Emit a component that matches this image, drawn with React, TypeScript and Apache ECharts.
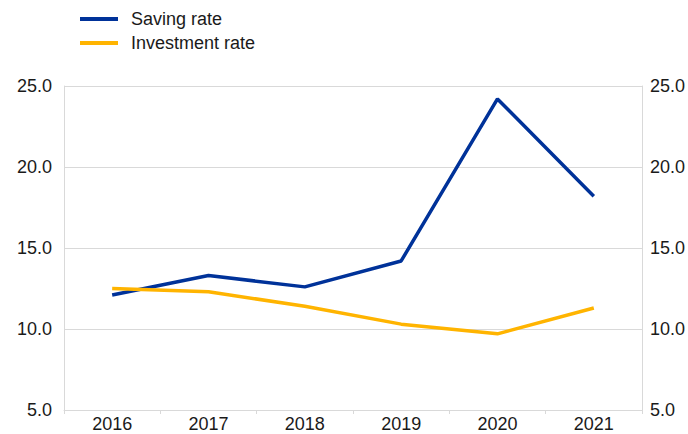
import React, { useEffect, useRef } from "react";
import * as echarts from "echarts";

const categories = ["2016", "2017", "2018", "2019", "2020", "2021"];
const savingRate = [12.1, 13.3, 12.6, 14.2, 24.2, 18.2];
const investmentRate = [12.5, 12.3, 11.4, 10.3, 9.7, 11.3];
const seriesNames = ["Saving rate", "Investment rate"];

export default function App() {
  const ref = useRef<HTMLDivElement>(null);
  useEffect(() => {
    document.body.style.margin = "0";
    const chart = echarts.init(ref.current!, null, { renderer: "svg" });
    const font = "Arial, 'Liberation Sans', sans-serif";
    const gridColor = "#d9d9d9";
    const fs = 18;
    const yAxisBase = {
      type: "value" as const,
      min: 5,
      max: 25,
      interval: 5,
      axisLine: { show: true, lineStyle: { color: gridColor, width: 1 } },
      axisTick: { show: false },
      axisLabel: {
        fontSize: fs,
        color: "#1a1a1a",
        fontFamily: font,
        formatter: (v: number) => v.toFixed(1),
      },
    };
    chart.setOption({
      animation: false,
      textStyle: { fontFamily: font },
      legend: {
        orient: "vertical",
        left: 75,
        top: 5,
        itemWidth: 38,
        itemHeight: 4,
        itemGap: 6,
        icon: "rect",
        data: seriesNames,
        textStyle: {
          fontSize: fs,
          color: "#1a1a1a",
          fontFamily: font,
          lineHeight: 18,
          padding: [0, 0, 0, 8],
        },
      },
      grid: { left: 64, right: 46, top: 86, bottom: 24, containLabel: false },
      xAxis: {
        type: "category",
        data: categories,
        boundaryGap: true,
        axisLine: { show: true, lineStyle: { color: gridColor, width: 1 } },
        axisTick: { show: true, length: 4, lineStyle: { color: gridColor } },
        axisLabel: { fontSize: fs, color: "#1a1a1a", fontFamily: font, margin: 5 },
      },
      yAxis: [
        {
          ...yAxisBase,
          position: "left",
          axisLabel: { ...yAxisBase.axisLabel, margin: 12 },
          splitLine: { show: true, lineStyle: { color: gridColor, width: 1 } },
        },
        {
          ...yAxisBase,
          position: "right",
          axisLabel: { ...yAxisBase.axisLabel, margin: 8 },
          splitLine: { show: false },
        },
      ],
      series: [
        {
          name: seriesNames[0],
          type: "line",
          data: savingRate,
          yAxisIndex: 0,
          showSymbol: false,
          symbol: "none",
          lineStyle: { color: "#003299", width: 3.5 },
          itemStyle: { color: "#003299" },
        },
        {
          name: seriesNames[1],
          type: "line",
          data: investmentRate,
          yAxisIndex: 0,
          showSymbol: false,
          symbol: "none",
          lineStyle: { color: "#FFB400", width: 3.5 },
          itemStyle: { color: "#FFB400" },
        },
      ],
    });
    return () => chart.dispose();
  }, []);
  return <div ref={ref} style={{ width: 688, height: 434 }} />;
}
